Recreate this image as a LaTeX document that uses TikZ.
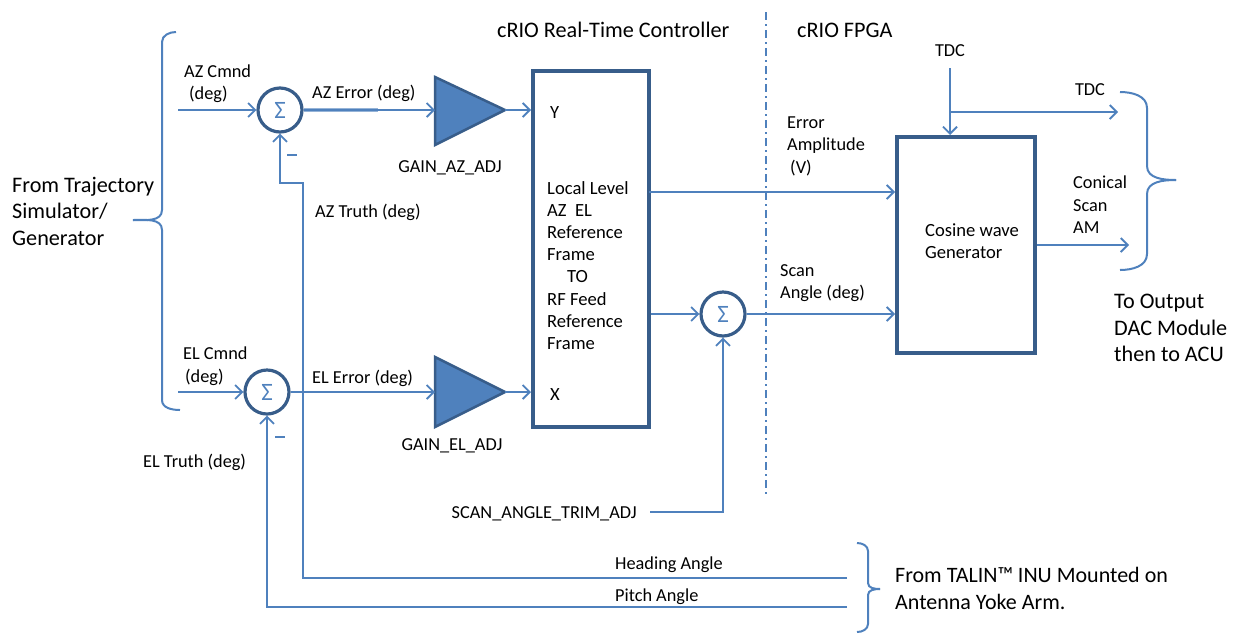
\documentclass[tikz,border=0pt]{standalone}
\usepackage{fontspec}
\setmainfont{Carlito}
\usetikzlibrary{arrows.meta}
\definecolor{lnblue}{HTML}{4F81BD}
\definecolor{dkblue}{HTML}{385D8A}
\definecolor{ltblue}{HTML}{95B3D7}
\tikzset{
  conn/.style={draw=lnblue, line width=2pt},
  arr/.style={conn, -{Straight Barb[length=7pt,width=14pt,line width=1.8pt]}},
  sumnode/.style={circle, draw=dkblue, line width=3.2pt, minimum size=44pt, inner sep=0pt, text=lnblue, font=\fontsize{25}{26}\selectfont},
  blk/.style={draw=dkblue, line width=4pt, rectangle, inner sep=0pt},
  tri/.style={fill=lnblue, draw=dkblue, line width=2.5pt, line join=miter},
  lbl/.style={font=\fontsize{18.3}{22.5}\selectfont, align=left, inner sep=0pt},
  boxtxt/.style={font=\fontsize{18.6}{22.1}\selectfont, align=left, inner sep=0pt},
  big/.style={font=\fontsize{22.2}{26.5}\selectfont, align=left, inner sep=0pt},
  brace/.style={draw=lnblue, line width=2pt},
  minus/.style={fill=lnblue, inner sep=0pt, minimum width=10pt, minimum height=2.5pt},
}
\begin{document}
\begin{tikzpicture}[x=1pt,y=-1pt]
\useasboundingbox (0,0) rectangle (1236,633);

% ---- titles
\node[big, anchor=west] (t1) at (497,30) {cRIO Real-Time Controller};
\node[big, anchor=west] (t2) at (797,30) {cRIO FPGA};

% ---- dash-dot separator
\coordinate (sepT) at (766,12);
\coordinate (sepB) at (766,497);
\draw[lnblue, line width=1.6pt, dash pattern=on 8pt off 4pt on 2pt off 4pt] (sepT) -- (sepB);

% ---- left brace and its text
\draw[brace] (176,32) to[out=180,in=90] (162,42) -- (162,210) to[out=-90,in=0] (133,220);
\draw[brace] (133,220) to[out=0,in=90] (162,230) -- (162,400) to[out=-90,in=180] (180,410);
\node[big, anchor=west] (ftraj) at (12,211) {From Trajectory\\Simulator/\\Generator};

% ---- summing junctions
\node[sumnode] (sAZ) at (280,110) {Σ};
\node[sumnode] (sEL) at (267,392) {Σ};
\node[sumnode] (sSC) at (723,314) {Σ};

% ---- gain triangles
\coordinate (gAZin) at (435,110);
\coordinate (gAZout) at (505,110);
\draw[tri] (435,77) -- (505,110) -- (435,145) -- cycle;
\coordinate (gELin) at (435,392);
\coordinate (gELout) at (505,392);
\draw[tri] (435,357) -- (505,392) -- (435,427) -- cycle;
\node[lbl, anchor=center] (gAZlbl) at (450,168) {GAIN\_AZ\_ADJ};
\node[lbl, anchor=center] (gELlbl) at (452,446) {GAIN\_EL\_ADJ};

% ---- real-time box
\node[blk, minimum width=116pt, minimum height=356pt] (rt) at (591,249) {};
\node[boxtxt, anchor=west] (rtY) at (550,113) {Y};
\node[boxtxt, anchor=west] (rtX) at (550,395) {X};
\node[boxtxt, anchor=west] (rttxt) at (547,265.5) {Local Level\\AZ\ \ EL\\Reference\\Frame\\\hspace*{20pt}TO\\RF Feed\\Reference\\Frame};

% ---- cosine generator box
\node[blk, minimum width=138pt, minimum height=216pt] (cg) at (966,245) {};
\node[boxtxt, anchor=west] (cgtxt) at (925,241) {Cosine wave\\Generator};

% ---- input labels
\node[lbl, anchor=west] (azc) at (184,83.5) {AZ Cmnd\\\hspace*{5pt}(deg)};
\node[lbl, anchor=west] (elc) at (183,366) {EL Cmnd\\\hspace*{2pt}(deg)};
\node[lbl, anchor=west] (aze) at (312,93) {AZ Error (deg)};
\node[lbl, anchor=west] (ele) at (312,378) {EL Error (deg)};
\node[lbl, anchor=west] (azt) at (315,212) {AZ Truth (deg)};
\node[lbl, anchor=west] (elt) at (143,462) {EL Truth (deg)};
\node[minus] (mAZ) at (292,155) {};
\node[minus] (mEL) at (280,437) {};

% ---- input connectors
\coordinate (azIn) at (178,110);
\coordinate (elIn) at (178,392);
\draw[arr] (azIn) -- (sAZ.west);
\draw[arr] (elIn) -- (sEL.west);
\draw[ltblue, line width=4pt] (sAZ.east) -- (378,110);
\draw[arr] (sAZ.east) -- (gAZin);
\draw[arr] (sEL.east) -- (gELin);
\draw[arr] (gAZout) -- (rt.west |- gAZout);
\draw[arr] (gELout) -- (rt.west |- gELout);

% ---- truth feedback
\coordinate (hdEnd) at (847,578);
\coordinate (ptEnd) at (847,607);
\draw[arr] (hdEnd) -- (303,578) -- (303,183) -- (sAZ.south |- 0,183) -- (sAZ.south);
\draw[arr] (ptEnd) -- (sEL.south |- ptEnd) -- (sEL.south);
\node[lbl, anchor=west] (hdl) at (615,565) {Heading Angle};
\node[lbl, anchor=west] (ptl) at (615,597) {Pitch Angle};

% ---- bottom brace
\draw[brace] (857,543) to[out=0,in=90] (868,551) -- (868,583) to[out=-90,in=180] (880,589);
\draw[brace] (880,589) to[out=180,in=90] (868,595) -- (868,624) to[out=-90,in=0] (857,632);
\node[big, font=\fontsize{22}{27}\selectfont, anchor=west] (talin) at (895,588.5) {From TALIN™ INU Mounted on\\Antenna Yoke Arm.};

% ---- scan angle path
\coordinate (trimIn) at (650,512);
\node[lbl, anchor=east] (trim) at (637,514) {SCAN\_ANGLE\_TRIM\_ADJ};
\draw[arr] (trimIn) -- (sSC.south |- trimIn) -- (sSC.south);
\draw[arr] (rt.east |- sSC.west) -- (sSC.west);
\draw[arr] (sSC.east) -- (cg.west |- sSC.east);
\node[lbl, anchor=west] (scl) at (780,283) {Scan\\Angle (deg)};

% ---- error amplitude
\coordinate (eaS) at (649,192);
\draw[arr] (eaS) -- (cg.west |- eaS);
\node[lbl, anchor=west] (eal) at (787,146) {Error\\Amplitude\\\hspace*{3pt}(V)};

% ---- TDC
\node[lbl, anchor=center] (tdc) at (950,51) {TDC};
\coordinate (tdcTop) at (950,68);
\coordinate (tdcBr) at (950,112);
\coordinate (tdcOut) at (1118,112);
\draw[arr] (tdcTop) -- (cg.north -| tdcTop);
\draw[arr] (tdcBr) -- (tdcOut);
\node[lbl, anchor=center] (tdc2) at (1090,90) {TDC};

% ---- conical scan output
\coordinate (cgOut) at (1129,245);
\draw[arr] (cg.east |- cgOut) -- (cgOut);
\node[lbl, anchor=west] (csl) at (1073,205) {Conical\\Scan\\AM};

% ---- right brace
\draw[brace] (1120,92) to[out=0,in=90] (1147,108) -- (1147,166) to[out=-90,in=180] (1176,180);
\draw[brace] (1176,180) to[out=180,in=90] (1147,194) -- (1147,254) to[out=-90,in=0] (1120,270);
\node[big, anchor=west] (outl) at (1114,328) {To Output\\DAC Module\\then to ACU};
\end{tikzpicture}
\end{document}
